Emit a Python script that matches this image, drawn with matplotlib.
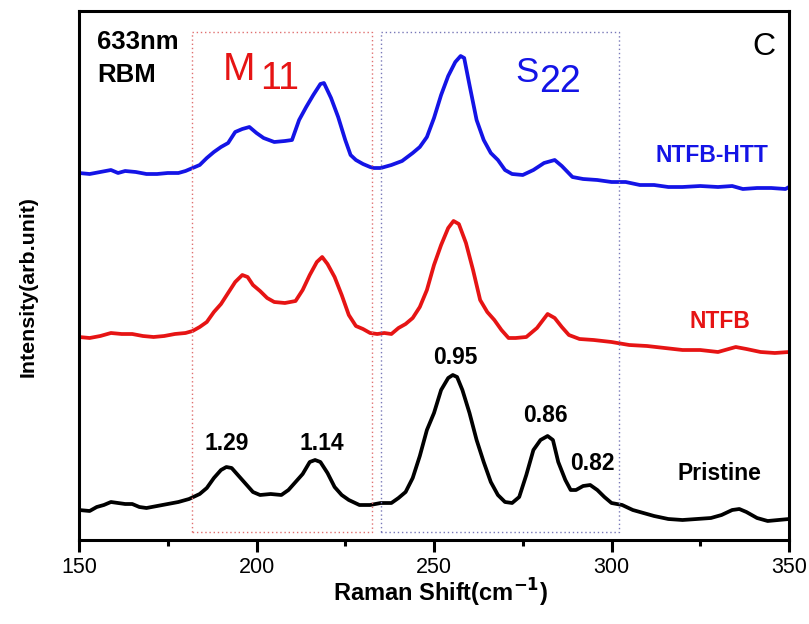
import matplotlib
matplotlib.use("Agg")
import matplotlib.pyplot as plt
from matplotlib.ticker import MultipleLocator
import numpy as np

plt.rcParams['font.family'] = ['Liberation Sans', 'DejaVu Sans']

# Raman shift (cm^-1) and intensity (arb. unit, offset stacked)
htt_x = [150, 153, 156, 159, 161, 163, 166, 169, 172, 175, 178, 180, 182, 184, 186, 188, 190, 192, 194, 196,
         198, 200, 202, 205, 208, 210, 212, 214, 216, 218, 219, 221, 223, 225, 226.5, 228, 230, 232, 233, 235,
         238, 241, 244, 246, 248, 250, 252, 254, 256, 257.5, 258.5, 260, 262, 264, 266, 268, 270, 272, 275, 278,
         281, 284, 286, 289, 292, 296, 300, 304, 308, 312, 316, 320, 325, 330, 334, 337, 341, 345, 349, 350]
htt_y = [367, 366, 368, 370, 367, 369, 368, 366, 366, 367, 367, 369, 372, 375, 382, 388, 393, 397, 408, 411,
         413, 407, 402, 398, 399, 400, 420, 433, 445, 456, 457, 442, 423, 400, 385, 380, 376, 373, 372, 372,
         375, 379, 387, 393, 403, 422, 445, 464, 478, 484, 482, 455, 420, 400, 387, 380, 370, 366, 365, 370,
         377, 380, 374, 363, 361, 360, 358, 358, 355, 355, 353, 353, 354, 353, 354, 351, 352, 352, 351, 353]

ntfb_x = [150, 153, 156, 159, 162, 165, 168, 171, 174, 177, 180, 182, 184, 186, 188, 190, 192, 194, 196, 197.5,
          199, 201, 203, 205, 208, 211, 213, 215, 217, 218.5, 220, 222, 224, 226, 228, 230, 232, 234, 236, 238,
          240, 242, 244, 246, 248, 250, 252, 254, 255.5, 257, 259, 261, 263, 265, 267, 269, 271, 273, 276, 279,
          282, 284, 286, 288, 291, 295, 300, 305, 310, 315, 320, 325, 330, 335, 338, 342, 346, 350]
ntfb_y = [203, 202, 204, 207, 206, 206, 204, 203, 204, 206, 207, 209, 213, 218, 228, 236, 247, 258, 265, 263,
          255, 249, 242, 238, 237, 239, 250, 265, 278, 283, 276, 263, 245, 225, 214, 211, 207, 206, 207, 206,
          212, 216, 222, 233, 250, 275, 295, 312, 319, 316, 297, 270, 240, 228, 220, 210, 202, 202, 203, 212,
          226, 222, 213, 205, 201, 200, 198, 195, 194, 192, 190, 190, 188, 193, 191, 188, 187, 188]

pri_x = [150, 153, 155, 157, 159, 161, 163, 165, 167, 169, 172, 175, 178, 181, 184, 186, 188, 190, 191.5, 193,
         195, 197, 199, 201, 204, 207, 209, 211, 213, 215, 216.5, 218, 220, 222, 224, 226, 229, 232, 235, 238,
         240, 242, 244, 246, 248, 250, 252, 254, 255.3, 256.5, 258, 260, 262, 264, 266, 268, 270, 272, 274, 276,
         278, 280, 282, 283.5, 285, 287, 288.5, 290, 292, 294, 296, 298, 300, 303, 306, 309, 312, 316, 320, 324,
         328, 331, 334, 336, 338, 341, 344, 347, 350]
pri_y = [30, 29, 33, 35, 38, 37, 36, 36, 33, 32, 34, 36, 38, 41, 46, 52, 62, 70, 73, 72,
         64, 56, 48, 45, 46, 45, 50, 58, 66, 78, 80, 78, 67, 53, 45, 40, 35, 35, 37, 37,
         42, 48, 62, 84, 110, 127, 150, 162, 165, 163, 150, 127, 100, 78, 58, 45, 38, 37, 43, 65,
         90, 100, 104, 100, 78, 60, 50, 50, 54, 55, 50, 43, 37, 35, 30, 27, 24, 21, 20, 21,
         22, 25, 30, 31, 28, 22, 19, 20, 21]

series_names = ["NTFB-HTT", "NTFB", "Pristine"]
series_colors = ["#1414e6", "#e61414", "#000000"]

diam_labels = ["1.29", "1.14", "0.95", "0.86", "0.82"]
diam_x = [191.7, 218.5, 255.9, 281.5, 294.5]
diam_y = [97, 97, 182, 124, 77]

W, H = 809, 624
fig = plt.figure(figsize=(W / 100, H / 100), dpi=100)
ax = fig.add_axes([79 / W, 1 - 540 / H, (789 - 79) / W, (540 - 11) / H])

for xs, ys, c in zip([htt_x, ntfb_x, pri_x], [htt_y, ntfb_y, pri_y], series_colors):
    ax.plot(xs, ys, color=c, lw=2.7, solid_joinstyle='round')

ax.set_xlim(150, 350)
ax.set_ylim(0, 529)

# dotted boxes
box_top, box_bot = 508, 8.3
ax.plot([181.7, 181.7, 232.4, 232.4, 181.7], [box_bot, box_top, box_top, box_bot, box_bot],
        color="#e07070", lw=1.0, ls=(0, (1, 2)))
ax.plot([235.1, 235.1, 302.1, 302.1, 235.1], [box_bot, box_top, box_top, box_bot, box_bot],
        color="#7878b8", lw=1.0, ls=(0, (1, 2)))

# labels
for t, x, y in zip(diam_labels, diam_x, diam_y):
    ax.text(x, y, t, ha='center', va='center', fontsize=16.5, fontweight='bold', color='black')

name_pos = [(328.3, 385), (330.6, 219), (330.3, 66)]
for n, (x, y), c in zip(series_names, name_pos, series_colors):
    ax.text(x, y, n, ha='center', va='center', fontsize=16.5, fontweight='bold', color=c)

ax.text(155.2, 491, "633nm", ha='left', va='baseline', fontsize=18.5, fontweight='bold')
ax.text(155.2, 458, "RBM", ha='left', va='baseline', fontsize=18.5, fontweight='bold')
ax.text(190.6, 460, "M", ha='left', va='baseline', fontsize=28, color="#e61414")
ax.text(201.0, 451, "11", ha='left', va='baseline', fontsize=27, color="#e61414")
ax.text(273.0, 458, "S", ha='left', va='baseline', fontsize=25, color="#1414e6")
ax.text(279.6, 448, "22", ha='left', va='baseline', fontsize=27, color="#1414e6")
ax.text(339.6, 485, "C", ha='left', va='baseline', fontsize=23, color='black')

for s in ax.spines.values():
    s.set_linewidth(2.2)

ax.xaxis.set_major_locator(MultipleLocator(50))
ax.xaxis.set_minor_locator(MultipleLocator(25))
ax.tick_params(axis='x', which='major', direction='out', length=8.5, width=2.2, labelsize=15.5, pad=4)
ax.tick_params(axis='x', which='minor', direction='out', length=4, width=2.2)
ax.set_yticks([])
ax.tick_params(top=False, right=False)

fig.text(440 / W, 1 - 593 / H, "Raman Shift(cm$^{\\mathbf{-1}}$)", ha='center', va='center',
         fontsize=17, fontweight='bold')
fig.text(28 / W, 1 - 287 / H, "Intensity(arb.unit)", ha='center', va='center', rotation=90,
         fontsize=15.4, fontweight='bold')

fig.savefig("out.png", dpi=100)
